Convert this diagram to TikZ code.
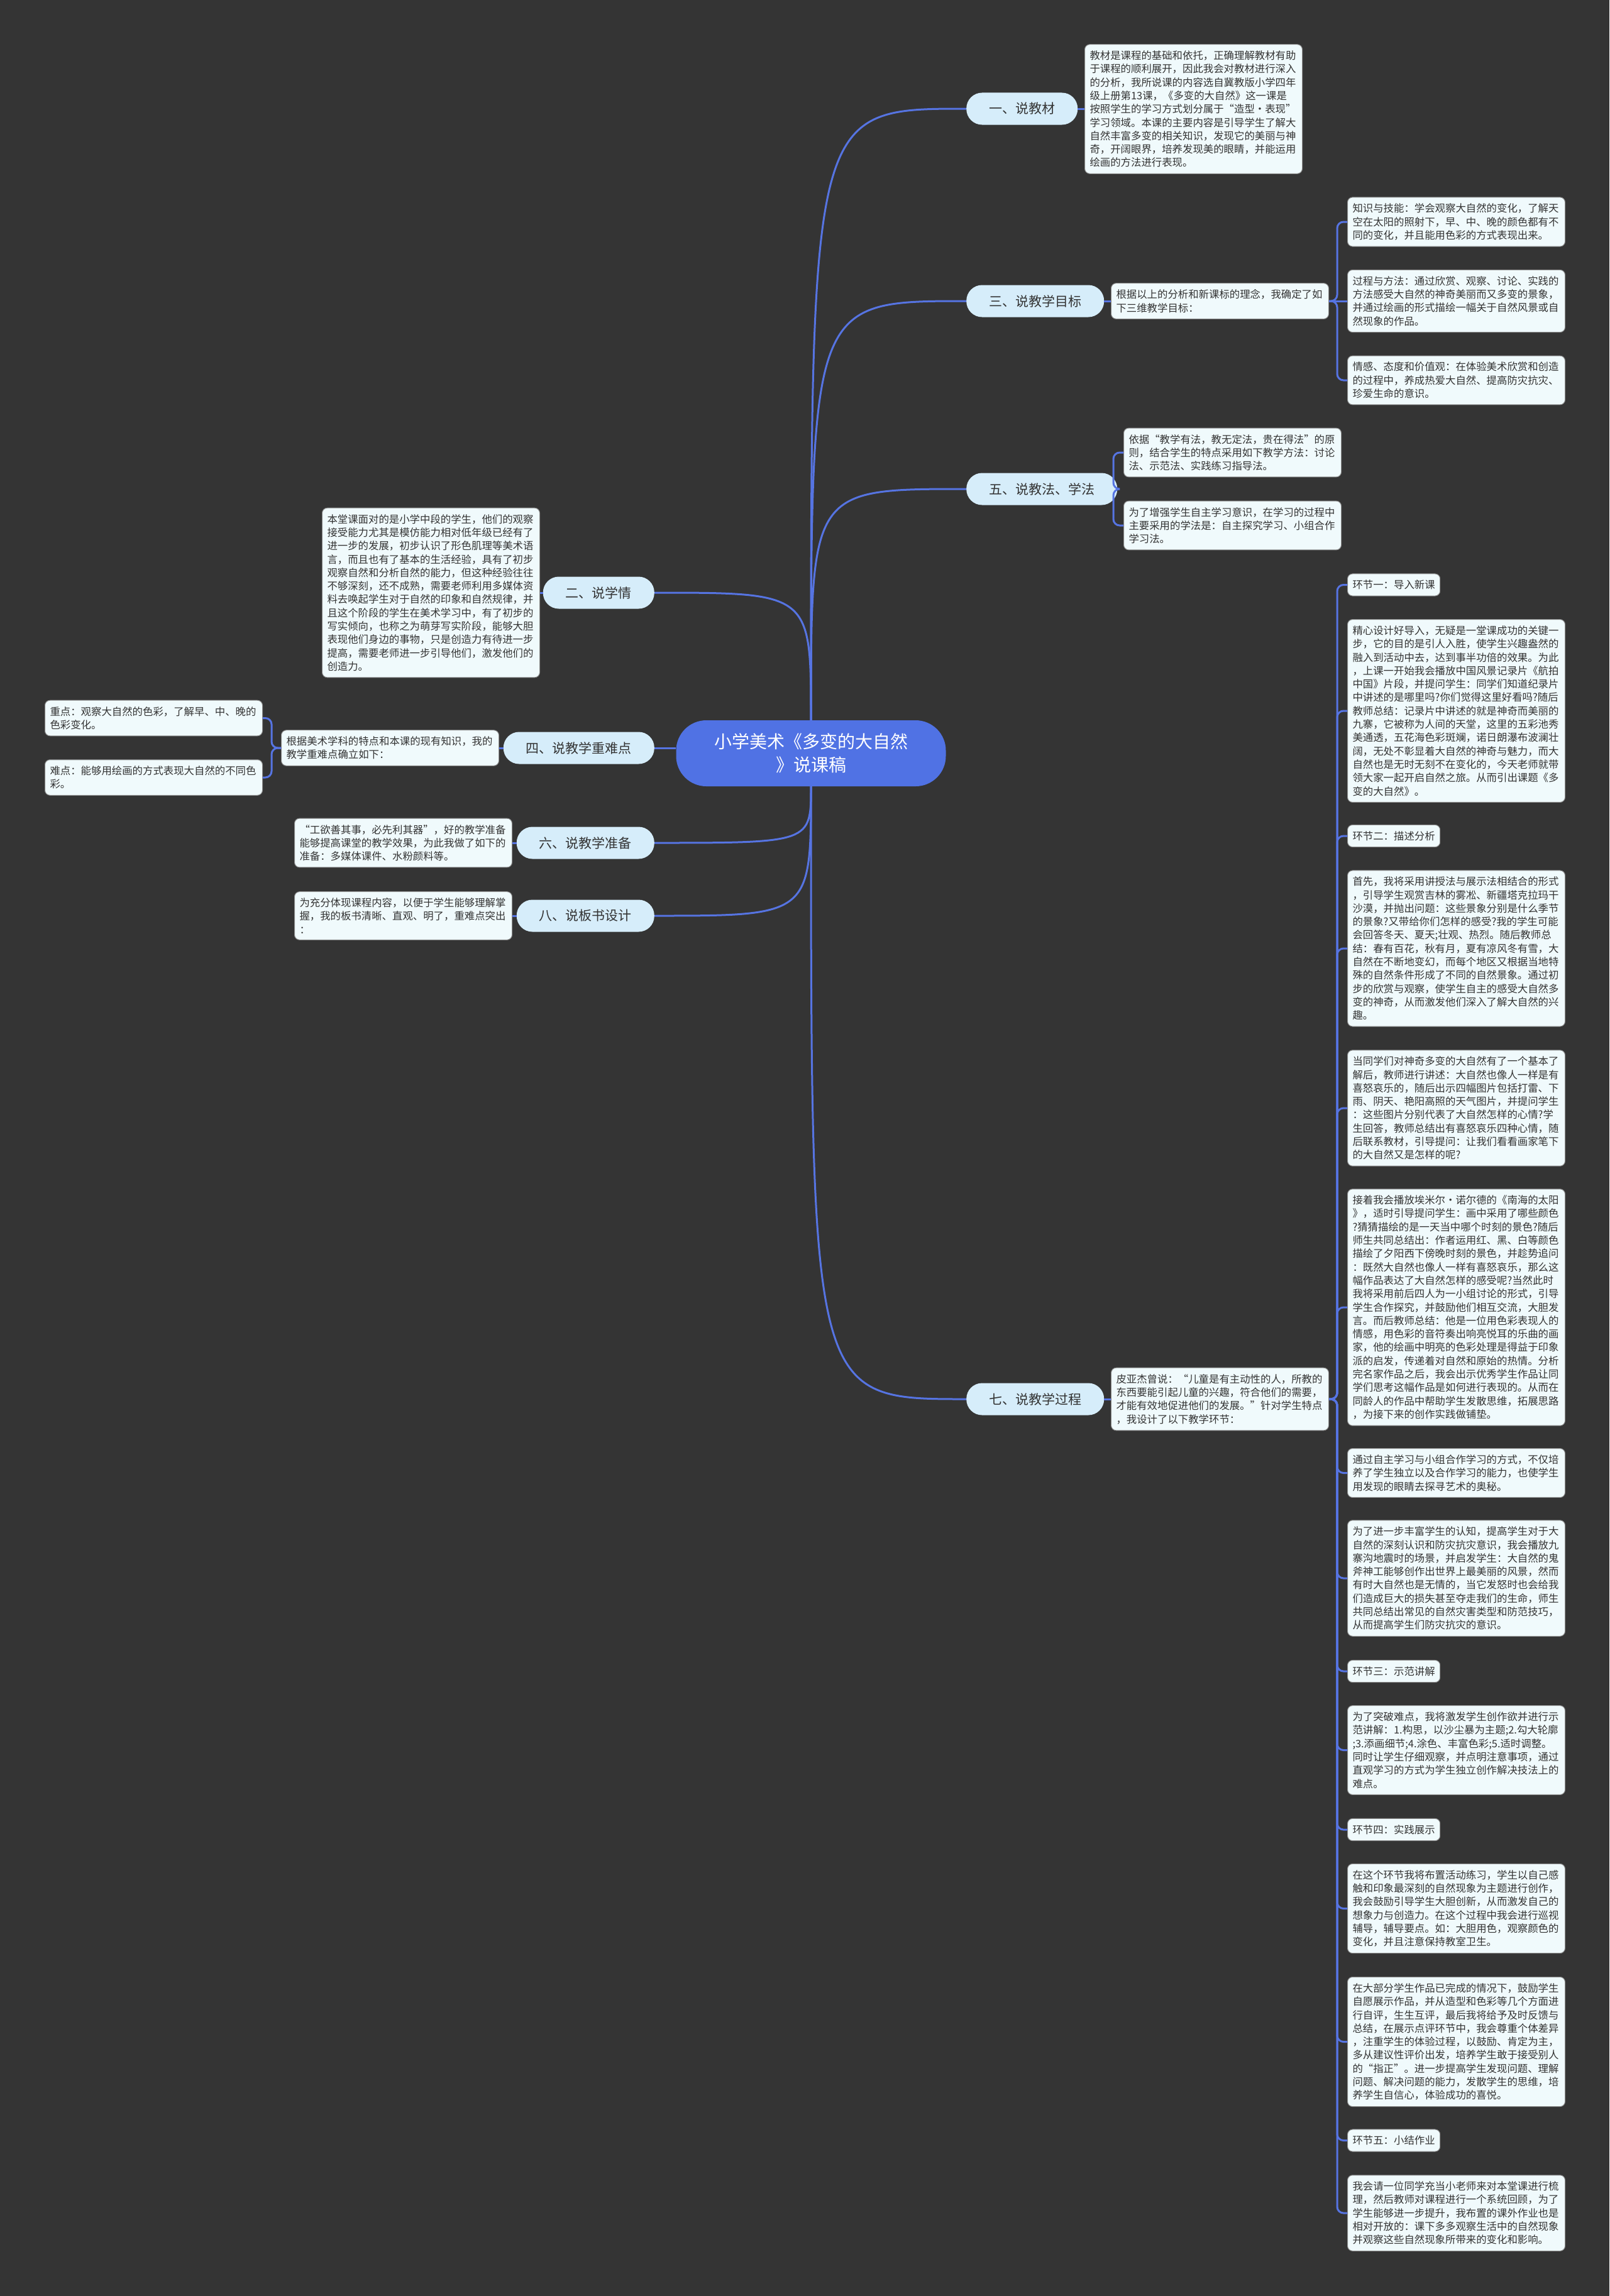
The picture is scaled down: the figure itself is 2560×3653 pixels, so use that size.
\documentclass[tikz,border=0pt]{standalone}
\usepackage{fontspec}
\newfontfamily\cjk{Noto Sans CJK SC}
\definecolor{bgc}{RGB}{52,52,52}
\definecolor{linec}{RGB}{86,116,226}
\definecolor{rootc}{RGB}{80,114,228}
\definecolor{topc}{RGB}{214,237,250}
\definecolor{boxc}{RGB}{240,250,252}
\definecolor{txt}{RGB}{51,51,51}
\begin{document}
\begin{tikzpicture}[x=1pt,y=-1pt,
  conn/.style={draw=linec, line width=3pt},
  box/.style={draw=black!45, line width=1pt, fill=boxc, rounded corners=8pt, text=txt,
    font=\cjk\fontsize{16.4}{21.3}\selectfont, align=left, text width=330pt,
    inner xsep=8pt, inner ysep=10pt, anchor=west},
  lbl/.style={draw=black!45, line width=1pt, fill=boxc, rounded corners=8pt, text=txt,
    font=\cjk\fontsize{16.4}{21.3}\selectfont, inner xsep=8pt, inner ysep=10pt, anchor=west},
  topic/.style={fill=topc, rounded corners=25pt, text=txt,
    font=\cjk\fontsize{21}{25}\selectfont, inner xsep=36pt, inner ysep=4pt, minimum height=51pt},
  rootnode/.style={fill=rootc, rounded corners=48pt, text=white, align=center,
    font=\cjk\fontsize{28}{37}\selectfont, minimum width=429pt, minimum height=105pt}
]
\fill[bgc] (0,0) rectangle (2560,3653);
\useasboundingbox (0,0) rectangle (2560,3653);

% root
\node[rootnode] (root) at (1290,1198.5) {小学美术《多变的大自然\\》说课稿};

% topics
\node[topic, anchor=west] (n1) at (1537,173) {一、说教材};
\node[topic, anchor=west] (n3) at (1537,479) {三、说教学目标};
\node[topic, anchor=west] (n5) at (1537,778) {五、说教法、学法};
\node[topic, anchor=west] (n7) at (1537,2226) {七、说教学过程};
\node[topic, anchor=east] (n2) at (1041,943) {二、说学情};
\node[topic, anchor=east] (n4) at (1041,1190) {四、说教学重难点};
\node[topic, anchor=east] (n6) at (1041,1341) {六、说教学准备};
\node[topic, anchor=east] (n8) at (1041,1457) {八、说板书设计};

% root connectors
\draw[conn] (root.north) .. controls (root.north |- n1.west) .. (n1.west);
\draw[conn] (root.north) .. controls (root.north |- n3.west) .. (n3.west);
\draw[conn] (root.north) .. controls (root.north |- n5.west) .. (n5.west);
\draw[conn] (root.south) .. controls (root.south |- n7.west) .. (n7.west);
\draw[conn] (root.north) .. controls (root.north |- n2.east) .. (n2.east);
\draw[conn] (root.south) .. controls (root.south |- n6.east) .. (n6.east);
\draw[conn] (root.south) .. controls (root.south |- n8.east) .. (n8.east);
\draw[conn] (n4.east) -- (n4.east -| root.west);

% 一
\node[box] (b1) at (1725,173.5) {教材是课程的基础和依托，正确理解教材有助\\于课程的顺利展开，因此我会对教材进行深入\\的分析，我所说课的内容选自冀教版小学四年\\级上册第13课，《多变的大自然》这一课是\\按照学生的学习方式划分属于“造型·表现”\\学习领域。本课的主要内容是引导学生了解大\\自然丰富多变的相关知识，发现它的美丽与神\\奇，开阔眼界，培养发现美的眼睛，并能运用\\绘画的方法进行表现。};
\draw[conn] (n1.east) -- (n1.east -| b1.west);

% 三
\node[box] (m3) at (1767,479) {根据以上的分析和新课标的理念，我确定了如\\下三维教学目标：};
\node[box] (c31) at (2143,353) {知识与技能：学会观察大自然的变化，了解天\\空在太阳的照射下，早、中、晚的颜色都有不\\同的变化，并且能用色彩的方式表现出来。};
\node[box] (c32) at (2143,479) {过程与方法：通过欣赏、观察、讨论、实践的\\方法感受大自然的神奇美丽而又多变的景象，\\并通过绘画的形式描绘一幅关于自然风景或自\\然现象的作品。};
\node[box] (c33) at (2143,605) {情感、态度和价值观：在体验美术欣赏和创造\\的过程中，养成热爱大自然、提高防灾抗灾、\\珍爱生命的意识。};
\draw[conn] (n3.east) -- (n3.east -| m3.west);
\coordinate (k3) at (2127,479);
\draw[conn, rounded corners=10pt] (m3.east) -- (k3) |- (c31.west);
\draw[conn, rounded corners=10pt] (m3.east) -- (k3) |- (c33.west);
\draw[conn] (m3.east) -- (c32.west);

% 五
\node[box] (d51) at (1787,720) {依据“教学有法，教无定法，贵在得法”的原\\则，结合学生的特点采用如下教学方法：讨论\\法、示范法、实践练习指导法。};
\node[box] (d52) at (1787,836) {为了增强学生自主学习意识，在学习的过程中\\主要采用的学法是：自主探究学习、小组合作\\学习法。};
\coordinate (k5) at (1771,778);
\draw[conn, rounded corners=10pt] (n5.east) -- (k5) |- (d51.west);
\draw[conn, rounded corners=10pt] (n5.east) -- (k5) |- (d52.west);

% 二
\node[box] (b2) at (512,943) {本堂课面对的是小学中段的学生，他们的观察\\接受能力尤其是模仿能力相对低年级已经有了\\进一步的发展，初步认识了形色肌理等美术语\\言，而且也有了基本的生活经验，具有了初步\\观察自然和分析自然的能力，但这种经验往往\\不够深刻，还不成熟，需要老师利用多媒体资\\料去唤起学生对于自然的印象和自然规律，并\\且这个阶段的学生在美术学习中，有了初步的\\写实倾向，也称之为萌芽写实阶段，能够大胆\\表现他们身边的事物，只是创造力有待进一步\\提高，需要老师进一步引导他们，激发他们的\\创造力。};
\draw[conn] (n2.west) -- (n2.west -| b2.east);

% 四
\node[box] (m4) at (447,1190) {根据美术学科的特点和本课的现有知识，我的\\教学重难点确立如下：};
\node[box] (c41) at (71,1142.5) {重点：观察大自然的色彩，了解早、中、晚的\\色彩变化。};
\node[box] (c42) at (71,1237) {难点：能够用绘画的方式表现大自然的不同色\\彩。};
\draw[conn] (n4.west) -- (n4.west -| m4.east);
\coordinate (k4) at (432,1190);
\draw[conn, rounded corners=10pt] (m4.west) -- (k4) |- (c41.east);
\draw[conn, rounded corners=10pt] (m4.west) -- (k4) |- (c42.east);

% 六 八
\node[box] (b6) at (468,1341) {“工欲善其事，必先利其器”，好的教学准备\\能够提高课堂的教学效果，为此我做了如下的\\准备：多媒体课件、水粉颜料等。};
\node[box] (b8) at (468,1457) {为充分体现课程内容，以便于学生能够理解掌\\握，我的板书清晰、直观、明了，重难点突出\\：};
\draw[conn] (n6.west) -- (n6.west -| b6.east);
\draw[conn] (n8.west) -- (n8.west -| b8.east);

% 七
\node[box] (m7) at (1767,2226) {皮亚杰曾说：“儿童是有主动性的人，所教的\\东西要能引起儿童的兴趣，符合他们的需要，\\才能有效地促进他们的发展。”针对学生特点\\，我设计了以下教学环节：};
\draw[conn] (n7.east) -- (n7.east -| m7.west);

\node[lbl] (l1) at (2143,930.5) {环节一：导入新课};
\node[box] (t1) at (2143,1131) {精心设计好导入，无疑是一堂课成功的关键一\\步，它的目的是引人入胜，使学生兴趣盎然的\\融入到活动中去，达到事半功倍的效果。为此\\，上课一开始我会播放中国风景记录片《航拍\\中国》片段，并提问学生：同学们知道纪录片\\中讲述的是哪里吗?你们觉得这里好看吗?随后\\教师总结：记录片中讲述的就是神奇而美丽的\\九寨，它被称为人间的天堂，这里的五彩池秀\\美通透，五花海色彩斑斓，诺日朗瀑布波澜壮\\阔，无处不彰显着大自然的神奇与魅力，而大\\自然也是无时无刻不在变化的，今天老师就带\\领大家一起开启自然之旅。从而引出课题《多\\变的大自然》。};
\node[lbl] (l2) at (2143,1330) {环节二：描述分析};
\node[box] (t2a) at (2143,1509) {首先，我将采用讲授法与展示法相结合的形式\\，引导学生观赏吉林的雾凇、新疆塔克拉玛干\\沙漠，并抛出问题：这些景象分别是什么季节\\的景象?又带给你们怎样的感受?我的学生可能\\会回答冬天、夏天;壮观、热烈。随后教师总\\结：春有百花，秋有月，夏有凉风冬有雪，大\\自然在不断地变幻，而每个地区又根据当地特\\殊的自然条件形成了不同的自然景象。通过初\\步的欣赏与观察，使学生自主的感受大自然多\\变的神奇，从而激发他们深入了解大自然的兴\\趣。};
\node[box] (t2b) at (2143,1763) {当同学们对神奇多变的大自然有了一个基本了\\解后，教师进行讲述：大自然也像人一样是有\\喜怒哀乐的，随后出示四幅图片包括打雷、下\\雨、阴天、艳阳高照的天气图片，并提问学生\\：这些图片分别代表了大自然怎样的心情?学\\生回答，教师总结出有喜怒哀乐四种心情，随\\后联系教材，引导提问：让我们看看画家笔下\\的大自然又是怎样的呢?};
\node[box] (t2c) at (2143,2080) {接着我会播放埃米尔·诺尔德的《南海的太阳\\》，适时引导提问学生：画中采用了哪些颜色\\?猜猜描绘的是一天当中哪个时刻的景色?随后\\师生共同总结出：作者运用红、黑、白等颜色\\描绘了夕阳西下傍晚时刻的景色，并趁势追问\\：既然大自然也像人一样有喜怒哀乐，那么这\\幅作品表达了大自然怎样的感受呢?当然此时\\我将采用前后四人为一小组讨论的形式，引导\\学生合作探究，并鼓励他们相互交流，大胆发\\言。而后教师总结：他是一位用色彩表现人的\\情感，用色彩的音符奏出响亮悦耳的乐曲的画\\家，他的绘画中明亮的色彩处理是得益于印象\\派的启发，传递着对自然和原始的热情。分析\\完名家作品之后，我会出示优秀学生作品让同\\学们思考这幅作品是如何进行表现的。从而在\\同龄人的作品中帮助学生发散思维，拓展思路\\，为接下来的创作实践做铺垫。};
\node[box] (t2d) at (2143,2343.5) {通过自主学习与小组合作学习的方式，不仅培\\养了学生独立以及合作学习的能力，也使学生\\用发现的眼睛去探寻艺术的奥秘。};
\node[box] (t2e) at (2143,2511) {为了进一步丰富学生的认知，提高学生对于大\\自然的深刻认识和防灾抗灾意识，我会播放九\\寨沟地震时的场景，并启发学生：大自然的鬼\\斧神工能够创作出世界上最美丽的风景，然而\\有时大自然也是无情的，当它发怒时也会给我\\们造成巨大的损失甚至夺走我们的生命，师生\\共同总结出常见的自然灾害类型和防范技巧，\\从而提高学生们防灾抗灾的意识。};
\node[lbl] (l3) at (2143,2659) {环节三：示范讲解};
\node[box] (t3) at (2143,2784.5) {为了突破难点，我将激发学生创作欲并进行示\\范讲解：1.构思，以沙尘暴为主题;2.勾大轮廓\\;3.添画细节;4.涂色、丰富色彩;5.适时调整。\\同时让学生仔细观察，并点明注意事项，通过\\直观学习的方式为学生独立创作解决技法上的\\难点。};
\node[lbl] (l4) at (2143,2911) {环节四：实践展示};
\node[box] (t4a) at (2143,3036.5) {在这个环节我将布置活动练习，学生以自己感\\触和印象最深刻的自然现象为主题进行创作，\\我会鼓励引导学生大胆创新，从而激发自己的\\想象力与创造力。在这个过程中我会进行巡视\\辅导，辅导要点。如：大胆用色，观察颜色的\\变化，并且注意保持教室卫生。};
\node[box] (t4b) at (2143,3248.5) {在大部分学生作品已完成的情况下，鼓励学生\\自愿展示作品，并从造型和色彩等几个方面进\\行自评，生生互评，最后我将给予及时反馈与\\总结，在展示点评环节中，我会尊重个体差异\\，注重学生的体验过程，以鼓励、肯定为主，\\多从建议性评价出发，培养学生敢于接受别人\\的“指正”。进一步提高学生发现问题、理解\\问题、解决问题的能力，发散学生的思维，培\\养学生自信心，体验成功的喜悦。};
\node[lbl] (l5) at (2143,3405.5) {环节五：小结作业};
\node[box] (t5) at (2143,3521) {我会请一位同学充当小老师来对本堂课进行梳\\理，然后教师对课程进行一个系统回顾，为了\\学生能够进一步提升，我布置的课外作业也是\\相对开放的：课下多多观察生活中的自然现象\\并观察这些自然现象所带来的变化和影响。};

\coordinate (k7) at (2127,2226);
\foreach \c in {l1,t1,l2,t2a,t2b,t2c,t2d,t2e,l3,t3,l4,t4a,t4b,l5,t5}
  \draw[conn, rounded corners=10pt] (m7.east) -- (k7) |- (\c.west);
\end{tikzpicture}
\end{document}
